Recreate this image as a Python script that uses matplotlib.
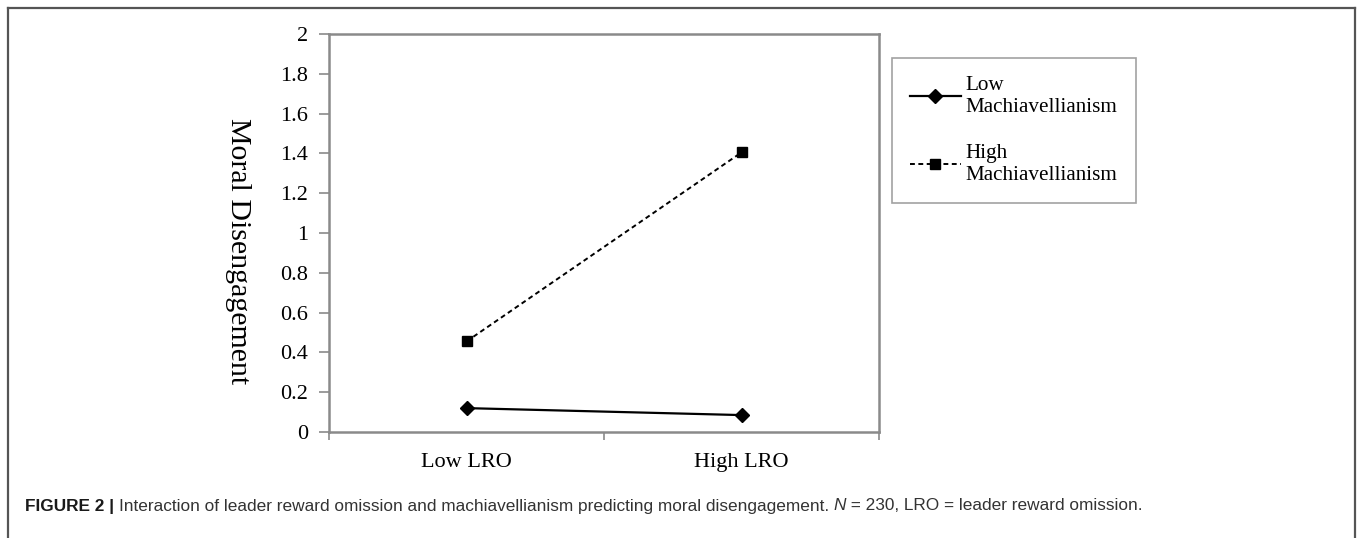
import numpy as np
import matplotlib
matplotlib.use("Agg")
import matplotlib.pyplot as plt
from matplotlib.lines import Line2D

# data
categories = ["Low LRO", "High LRO"]
low_mach = [0.12, 0.085]
high_mach = [0.455, 1.405]
series_labels = ["Low\nMachiavellianism", "High\nMachiavellianism"]
y_ticks = [0, 0.2, 0.4, 0.6, 0.8, 1, 1.2, 1.4, 1.6, 1.8, 2]
y_ticklabels = ["0", "0.2", "0.4", "0.6", "0.8", "1", "1.2", "1.4", "1.6", "1.8", "2"]

W, H = 1358, 538
SERIF = "Liberation Serif"
SANS = "Liberation Sans"
GRAY = "#8a8a8a"

fig = plt.figure(figsize=(W / 100, H / 100), dpi=100)


def fx(px):
    return px / W


def fy(py):
    return 1 - py / H


# outer frame (left, top, right)
frame = dict(color="#555555", lw=1.6, transform=fig.transFigure)
fig.add_artist(Line2D([fx(8), fx(8)], [0, fy(8)], **frame))
fig.add_artist(Line2D([fx(8), fx(1355)], [fy(8), fy(8)], **frame))
fig.add_artist(Line2D([fx(1355), fx(1355)], [0, fy(8)], **frame))

ax = fig.add_axes([fx(329), fy(432), fx(879 - 329), (432 - 34) / H])
x = np.arange(len(categories)) + 0.5
ax.plot(x, low_mach, color="black", lw=1.6, marker="D", ms=7.5,
        label=series_labels[0])
ax.plot(x, high_mach, color="black", lw=1.4, ls=(0, (2.5, 1.8)), marker="s",
        ms=6.5, label=series_labels[1])

ax.set_xlim(0, len(categories))
ax.set_ylim(0, 2)
ax.set_yticks(y_ticks)
ax.set_yticklabels(y_ticklabels, fontfamily=SERIF, fontsize=16)
ax.set_xticks(np.arange(len(categories) + 1))
ax.set_xticklabels([])
ax.set_xticks(x, minor=True)
ax.set_xticklabels(categories, minor=True, fontfamily=SERIF, fontsize=16)
ax.tick_params(axis="y", which="major", length=7, width=1.2, color=GRAY, pad=8)
ax.tick_params(axis="x", which="major", length=6, width=1.2, color=GRAY)
ax.tick_params(axis="x", which="minor", length=0, pad=15)
for s in ax.spines.values():
    s.set_color(GRAY)
    s.set_linewidth(1.8)

fig.text(fx(238), fy(251), "Moral Disengagement", rotation=-90, ha="center",
         va="center", fontfamily=SERIF, fontsize=21.5)

leg = fig.legend(loc="upper left", bbox_to_anchor=(fx(892), fy(58)),
                 prop={"family": SERIF, "size": 15.2}, frameon=True, fancybox=False,
                 edgecolor=GRAY, handlelength=2.4, handletextpad=0.25,
                 labelspacing=1.3, borderpad=0.85, borderaxespad=0)
leg.get_frame().set_linewidth(1.2)

# caption, drawn piece by piece
r = fig.canvas.get_renderer()
cx = fx(25)
cy = fy(506)
pieces = [("FIGURE 2 | ", "bold", "normal", "#1a1a1a"),
          ("Interaction of leader reward omission and machiavellianism predicting "
           "moral disengagement. ", "normal", "normal", "#333333"),
          ("N", "normal", "italic", "#333333"),
          (" = 230, LRO = leader reward omission.", "normal", "normal", "#333333")]
for txt, weight, style, col in pieces:
    t = fig.text(cx, cy, txt, fontfamily=SANS, fontsize=12.45, fontweight=weight,
                 fontstyle=style, color=col, va="center", ha="left")
    bb = t.get_window_extent(renderer=r)
    cx += bb.width / W

fig.savefig("out.png", dpi=100)
